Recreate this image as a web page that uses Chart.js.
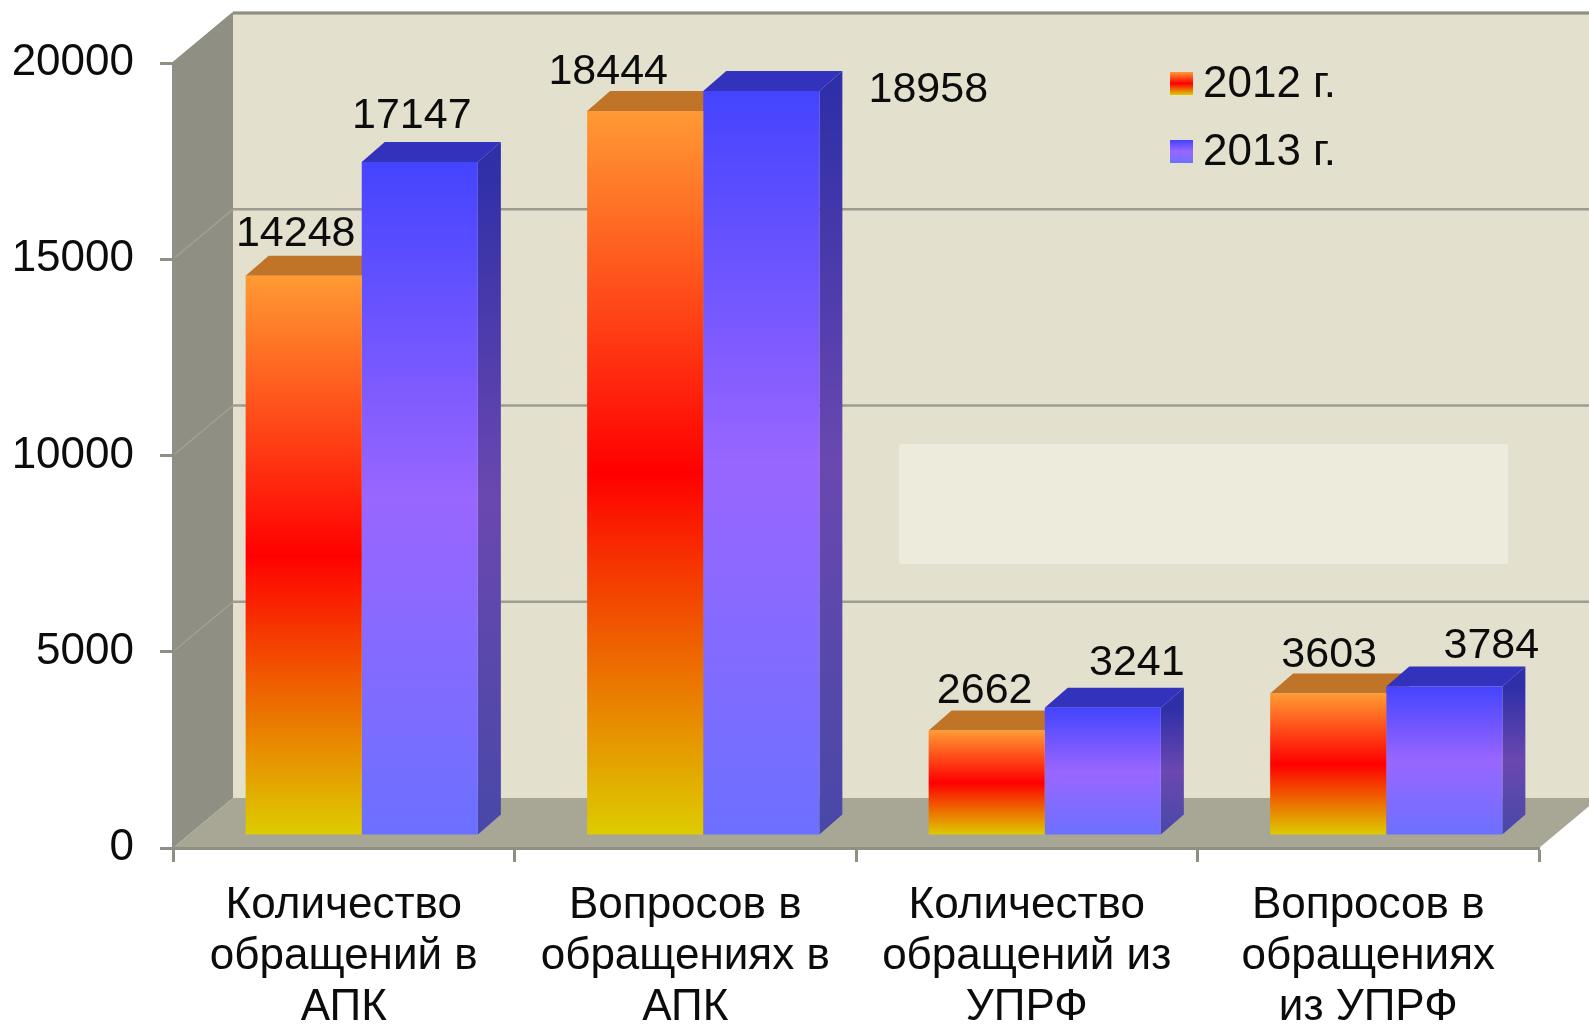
<!DOCTYPE html>
<html lang="ru">
<head>
<meta charset="utf-8">
<title>Обращения 2012-2013</title>
<script src="https://cdn.jsdelivr.net/npm/chart.js@4"></script>
<style>
  html, body { margin: 0; padding: 0; background: #fff; }
  canvas { display: block; }
</style>
</head>
<body>
<canvas id="grafico" width="1589" height="1024"></canvas>
<script>
const categorias = [
  ["Количество", "обращений в", "АПК"],
  ["Вопросов в", "обращениях в", "АПК"],
  ["Количество", "обращений из", "УПРФ"],
  ["Вопросов в", "обращениях", "из УПРФ"]
];
const valores2012 = [14248, 18444, 2662, 3603];
const valores2013 = [17147, 18958, 3241, 3784];
const nombreSeries = ["2012 г.", "2013 г."];
const ticksY = [0, 5000, 10000, 15000, 20000];

const FUENTE = '"Liberation Sans", Arial, sans-serif';
const COLOR_LINEA = "#8f8f85";

// stops de los degradados de cada serie
const stops2012 = [[0, "#ff9a33"], [0.5, "#ff0000"], [1, "#ddcc00"]];
const stops2013 = [[0, "#4444ff"], [0.5, "#9966ff"], [1, "#6c70ff"]];
const stopsLado2013 = [[0, "#2f2fa8"], [0.5, "#6a48b0"], [1, "#4848a8"]];
const colorTecho = ["#c07428", "#3232bc"];
const stopsLado = [[[0, "#c07428"], [1, "#a06010"]], stopsLado2013];

// el cubo de fondo y la posicion de las barras dentro de el
const fondo = { dx: 60, dy: 50 };
const plano = { dx: 18, dy: 13 };
const cara = { dx: 23, dy: 20 };

// desplazamiento de cada etiqueta respecto a la barra
const desplazaEtiquetas = [
  [[-8, -42], [-37, -39], [-2, -39], [1, -38]],
  [[-8, -46], [167, -1], [34, -45], [47, -40]]
];

function crearDegradado(ctx, y0, y1, stops) {
  const g = ctx.createLinearGradient(0, y0, 0, y1);
  stops.forEach(([p, c]) => g.addColorStop(p, c));
  return g;
}

function colorBarra(context, stops) {
  const { chart, parsed } = context;
  if (!chart.chartArea || !parsed) return stops[1][1];
  const y = chart.scales.y;
  return crearDegradado(chart.ctx, y.getPixelForValue(parsed.y), y.getPixelForValue(0), stops);
}

function poligono(ctx, puntos, color) {
  ctx.fillStyle = color;
  ctx.beginPath();
  puntos.forEach(([x, y], i) => (i ? ctx.lineTo(x, y) : ctx.moveTo(x, y)));
  ctx.closePath();
  ctx.fill();
}

function linea(ctx, x0, y0, x1, y1, color, ancho) {
  ctx.strokeStyle = color;
  ctx.lineWidth = ancho;
  ctx.beginPath();
  ctx.moveTo(x0, y0);
  ctx.lineTo(x1, y1);
  ctx.stroke();
}

const cubo3d = {
  id: "cubo3d",
  beforeDraw(chart) {
    const { ctx, chartArea: a, scales } = chart;
    const y = scales.y;
    const { dx, dy } = fondo;
    ctx.save();
    // pared de atras
    poligono(ctx, [[a.left + dx, a.top - dy], [chart.width, a.top - dy], [chart.width, a.bottom - dy], [a.left + dx, a.bottom - dy]], "#e3e0ce");
    // recuadro claro sobre la pared
    ctx.fillStyle = "#ecebdc";
    ctx.fillRect(899, 444, 609, 120);
    // pared izquierda
    poligono(ctx, [[a.left, a.top], [a.left + dx, a.top - dy], [a.left + dx, a.bottom - dy], [a.left, a.bottom]], "#908f83");
    // suelo
    poligono(ctx, [[a.left, a.bottom], [a.left + dx, a.bottom - dy], [a.right + dx, a.bottom - dy], [a.right, a.bottom]], "#a8a795");
    // lineas de la cuadricula
    ticksY.forEach((v) => {
      const py = y.getPixelForValue(v);
      if (v > 0) linea(ctx, a.left, py, a.left + dx, py - dy, "#a3a297", 1.5);
      if (v > 0) linea(ctx, a.left + dx, py - dy, chart.width, py - dy, "#9c9c90", 2.5);
    });
    ctx.restore();
  },
  beforeDatasetsDraw(chart) {
    const { ctx } = chart;
    ctx.save();
    ctx.translate(plano.dx, -plano.dy);
    // primero todas las caras laterales, luego Chart.js pinta los frentes encima
    chart.data.datasets.forEach((ds, i) => {
      chart.getDatasetMeta(i).data.forEach((barra) => {
        const l = barra.x - barra.width / 2;
        const r = barra.x + barra.width / 2;
        poligono(ctx, [[l, barra.y], [l + cara.dx, barra.y - cara.dy], [r + cara.dx, barra.y - cara.dy], [r, barra.y]], colorTecho[i]);
        poligono(ctx, [[r, barra.y], [r + cara.dx, barra.y - cara.dy], [r + cara.dx, barra.base - cara.dy], [r, barra.base]],
          crearDegradado(ctx, barra.y, barra.base, stopsLado[i]));
      });
    });
  },
  afterDatasetsDraw(chart) {
    chart.ctx.restore();
  },
  afterDraw(chart) {
    const { ctx } = chart;
    ctx.save();
    ctx.fillStyle = "#0c0c0c";
    ctx.font = "43px " + FUENTE;
    ctx.textAlign = "center";
    ctx.textBaseline = "middle";
    // valores sobre las barras
    chart.data.datasets.forEach((ds, i) => {
      chart.getDatasetMeta(i).data.forEach((barra, j) => {
        const [ox, oy] = desplazaEtiquetas[i][j];
        ctx.fillText(String(ds.data[j]), barra.x + plano.dx + ox, barra.y - plano.dy + oy);
      });
    });
    // leyenda
    ctx.textAlign = "left";
    ctx.font = "44px " + FUENTE;
    [stops2012, stops2013].forEach((stops, i) => {
      const top = 72 + i * 68;
      ctx.fillStyle = crearDegradado(ctx, top, top + 23, stops);
      ctx.fillRect(1170, top, 23, 23);
      ctx.fillStyle = "#0c0c0c";
      ctx.fillText(nombreSeries[i], 1203, top + 13);
    });
    // borde superior de la pared
    const a = chart.chartArea;
    linea(ctx, a.left + fondo.dx, a.top - fondo.dy, chart.width, a.top - fondo.dy, COLOR_LINEA, 3);
    linea(ctx, a.left, a.top, a.left + fondo.dx, a.top - fondo.dy, COLOR_LINEA, 2);
    ctx.restore();
  }
};

new Chart(document.getElementById("grafico"), {
  type: "bar",
  plugins: [cubo3d],
  data: {
    labels: categorias,
    datasets: [
      { label: nombreSeries[0], data: valores2012, clip: false, backgroundColor: (c) => colorBarra(c, stops2012) },
      { label: nombreSeries[1], data: valores2013, clip: false, backgroundColor: (c) => colorBarra(c, stops2013) }
    ]
  },
  options: {
    responsive: false,
    animation: false,
    layout: { padding: { top: 63, right: 50, left: 0, bottom: 0 } },
    datasets: { bar: { barPercentage: 1, categoryPercentage: 0.68, borderWidth: 0 } },
    plugins: { legend: { display: false }, tooltip: { enabled: false } },
    scales: {
      x: {
        afterFit: (s) => { s.height = 176; },
        grid: { drawOnChartArea: false, tickLength: 14, tickColor: COLOR_LINEA, tickWidth: 3 },
        border: { color: COLOR_LINEA, width: 3 },
        ticks: {
          autoSkip: false,
          maxRotation: 0,
          padding: 18,
          color: "#0c0c0c",
          font: { family: FUENTE, size: 44, lineHeight: 1.164 }
        }
      },
      y: {
        min: 0,
        max: 20000,
        afterFit: (s) => { s.width = 173; },
        afterBuildTicks: (s) => { s.ticks = ticksY.map((value) => ({ value })); },
        grid: { drawOnChartArea: false, tickLength: 13, tickColor: COLOR_LINEA, tickWidth: 3 },
        border: { color: COLOR_LINEA, width: 3 },
        ticks: {
          padding: 26,
          color: "#0c0c0c",
          font: { family: FUENTE, size: 44 },
          callback: (v) => String(v)
        }
      }
    }
  }
});
</script>
</body>
</html>
